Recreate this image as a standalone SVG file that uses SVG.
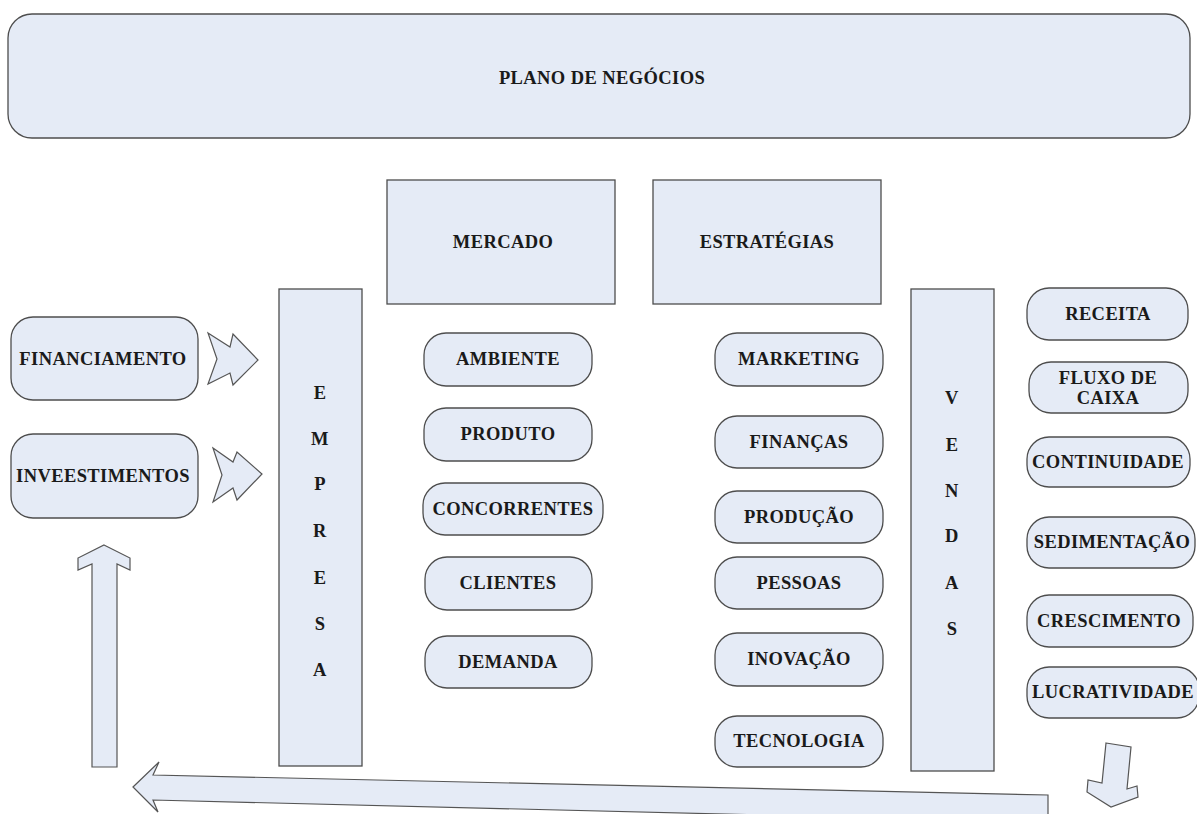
<svg xmlns="http://www.w3.org/2000/svg" width="1197" height="814" viewBox="0 0 1197 814">
<style>
.b{fill:#e5ebf6;stroke:#4d4d4d;stroke-width:1.3}
.t{font-family:"Liberation Serif","Times New Roman",serif;font-weight:bold;font-size:18.5px;letter-spacing:0.4px;fill:#1a1a1a;text-anchor:middle;dominant-baseline:central}
.a{fill:#e5ebf6;stroke:#555;stroke-width:1.2;stroke-linejoin:miter}
</style>
<rect width="1197" height="814" fill="#fff"/>
<g id="plano"><rect class="b" x="8" y="14" width="1182" height="124" rx="24"/><text class="t" x="602" y="78">PLANO DE NEGÓCIOS</text></g>
<g id="mercado"><rect class="b" x="387" y="180" width="228" height="124"/><text class="t" x="503" y="242">MERCADO</text></g>
<g id="estrategias"><rect class="b" x="653" y="180" width="228" height="124"/><text class="t" x="767" y="242">ESTRATÉGIAS</text></g>
<g id="empresa"><rect class="b" x="279" y="289" width="83" height="477"/>
<text class="t" x="320" y="393">E</text><text class="t" x="320" y="439">M</text><text class="t" x="320" y="484">P</text><text class="t" x="320" y="531">R</text><text class="t" x="320" y="578">E</text><text class="t" x="320" y="624">S</text><text class="t" x="320" y="670">A</text></g>
<g id="vendas"><rect class="b" x="911" y="289" width="83" height="482"/>
<text class="t" x="952" y="398">V</text><text class="t" x="952" y="445">E</text><text class="t" x="952" y="491">N</text><text class="t" x="952" y="536">D</text><text class="t" x="952" y="583">A</text><text class="t" x="952" y="629">S</text></g>
<g id="financiamento"><rect class="b" x="11" y="317" width="187" height="83" rx="22"/><text class="t" x="103" y="359">FINANCIAMENTO</text></g>
<g id="investimentos"><rect class="b" x="11" y="434" width="187" height="84" rx="22"/><text class="t" x="103" y="476">INVEESTIMENTOS</text></g>
<g id="ambiente"><rect class="b" x="424" y="333" width="168" height="53" rx="22"/><text class="t" x="508" y="359">AMBIENTE</text></g>
<g id="produto"><rect class="b" x="424" y="408" width="168" height="53" rx="22"/><text class="t" x="508" y="434">PRODUTO</text></g>
<g id="concorrentes"><rect class="b" x="423" y="483" width="180" height="52" rx="22"/><text class="t" x="513" y="509">CONCORRENTES</text></g>
<g id="clientes"><rect class="b" x="425" y="557" width="167" height="53" rx="22"/><text class="t" x="508" y="583">CLIENTES</text></g>
<g id="demanda"><rect class="b" x="425" y="636" width="167" height="52" rx="22"/><text class="t" x="508" y="662">DEMANDA</text></g>
<g id="marketing"><rect class="b" x="715" y="333" width="168" height="53" rx="22"/><text class="t" x="799" y="359">MARKETING</text></g>
<g id="financas"><rect class="b" x="715" y="416" width="168" height="52" rx="22"/><text class="t" x="799" y="442">FINANÇAS</text></g>
<g id="producao"><rect class="b" x="715" y="491" width="168" height="52" rx="22"/><text class="t" x="799" y="517">PRODUÇÃO</text></g>
<g id="pessoas"><rect class="b" x="715" y="557" width="168" height="52" rx="22"/><text class="t" x="799" y="583">PESSOAS</text></g>
<g id="inovacao"><rect class="b" x="715" y="633" width="168" height="53" rx="22"/><text class="t" x="799" y="659">INOVAÇÃO</text></g>
<g id="tecnologia"><rect class="b" x="715" y="716" width="168" height="51" rx="22"/><text class="t" x="799" y="741">TECNOLOGIA</text></g>
<g id="receita"><rect class="b" x="1027" y="288" width="161" height="52" rx="22"/><text class="t" x="1108" y="314">RECEITA</text></g>
<g id="fluxo"><rect class="b" x="1029" y="362" width="159" height="51" rx="22"/><text class="t" x="1108" y="378">FLUXO DE</text><text class="t" x="1108" y="398">CAIXA</text></g>
<g id="continuidade"><rect class="b" x="1027" y="437" width="163" height="50" rx="22"/><text class="t" x="1108" y="462">CONTINUIDADE</text></g>
<g id="sedimentacao"><rect class="b" x="1027" y="517" width="168" height="51" rx="22"/><text class="t" x="1112" y="542">SEDIMENTAÇÃO</text></g>
<g id="crescimento"><rect class="b" x="1027" y="595" width="166" height="52" rx="22"/><text class="t" x="1109" y="621">CRESCIMENTO</text></g>
<g id="lucratividade"><rect class="b" x="1027" y="667" width="172" height="51" rx="22"/><text class="t" x="1113" y="692">LUCRATIVIDADE</text></g>
<g id="connectors">
<polygon class="a" points="208,333 230,347 233,334 258,360 233,385 230,373 208,384 217,359"/>
<polygon class="a" points="213,448 233,462 237,452 262,474 237,500 233,488 213,502 222,475"/>
<polygon class="a" points="104,545 130,558 130,570 117,564 117,767 92,767 92,564 78,570 78,558"/>
<polygon class="a" points="133,787 159,762 153,775 1048,795 1048,822 153,800 158,812"/>
<polygon class="a" points="1106,743 1131,747 1127,789 1137,786 1138,797 1111,807 1087,792 1088,780 1102,783"/>
</g>
</svg>
